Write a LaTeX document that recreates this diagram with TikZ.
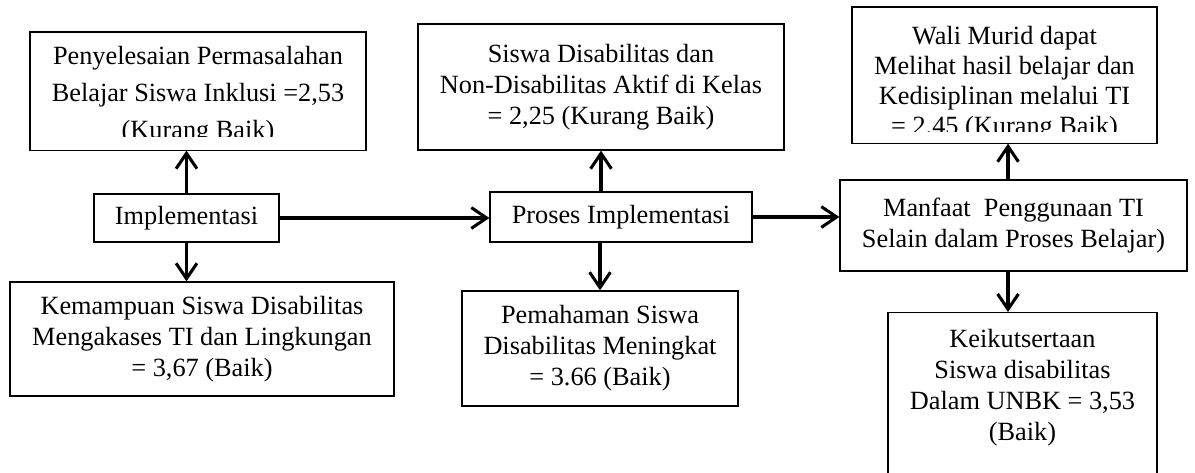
\documentclass[tikz,border=0pt]{standalone}
\usepackage{fontspec}
\setmainfont{Liberation Serif}
\usetikzlibrary{arrows.meta,positioning}

\begin{document}
\begin{tikzpicture}[x=0.4563pt,y=0.4563pt,>={Straight Barb[length=7pt,width=9.5pt]},
	box/.style={draw=black,line width=0.6pt,rectangle,align=center,inner sep=2pt,font=\fontsize{12}{14.2}\selectfont},
	link/.style={->,line width=1.4pt},
	cut/.style={fill=white,draw=none}]
	\useasboundingbox (0,0) rectangle (1195,473);

	% left column
	\node[box,minimum width=153.3pt,minimum height=53.8pt,font=\fontsize{12}{16.9}\selectfont]	(masalah)	at (198,382)	{\rule{0pt}{12.6pt}Penyelesaian Permasalahan\\Belajar Siswa Inklusi =2,53\\(Kurang Baik)};
	\node[box,minimum width=84.4pt,minimum height=21.9pt]	(impl)		at (186.5,255)	{Implementasi};
	\node[box,minimum width=175.2pt,minimum height=52pt]	(akses)		at (202,134)	{Kemampuan Siswa Disabilitas\\Mengakases TI dan Lingkungan\\= 3,67 (Baik)};

	% middle column
	\node[box,minimum width=167pt,minimum height=57.5pt]	(aktif)		at (601,386)	{Siswa Disabilitas dan\\Non-Disabilitas Aktif di Kelas\\= 2,25 (Kurang Baik)};
	\node[box,minimum width=119.5pt,minimum height=22.8pt]	(proses)	at (621,256)	{Proses Implementasi};
	\node[box,minimum width=125.9pt,minimum height=52.5pt]	(paham)		at (600,124.5)	{Pemahaman Siswa\\Disabilitas Meningkat\\= 3.66 (Baik)};

	% right column
	\node[box,minimum width=139.2pt,minimum height=62.1pt,inner ysep=0pt,font=\fontsize{12}{13.7}\selectfont]	(wali)	at (1004.5,398)	{\rule{0pt}{16pt}Wali Murid dapat\\Melihat hasil belajar dan\\Kedisiplinan melalui TI\\= 2,45 (Kurang Baik)};
	\node[box,minimum width=158.3pt,minimum height=41.5pt]	(manfaat)	at (1013.5,247.5)	{Manfaat\ \ Penggunaan TI\\Selain dalam Proses Belajar)};
	\node[box,minimum width=122.7pt,anchor=north,inner ysep=7.5pt,text depth=60pt]	(unbk)	at (1022.5,161)	{Keikutsertaan\\Siswa disabilitas\\Dalam UNBK = 3,53\\(Baik)};

	% last lines cut off by the box
	\path[cut] ([shift={(1.5,1)}]masalah.south west) rectangle ([shift={(-1.5,14)}]masalah.south east);
	\path[cut] ([shift={(1.5,1)}]wali.south west) rectangle ([shift={(-1.5,12)}]wali.south east);

	\path[link]
		(impl)							edge	(impl |- masalah.south)
		(impl)							edge	(impl |- akses.north)
		(impl.east)						edge	(impl.east -| proses.west)
		(proses.north -| aktif.south)	edge	(aktif.south)
		(proses.south -| paham.north)	edge	(paham.north)
		(proses.east)					edge	(proses.east -| manfaat.west)
		([xshift=-2.5pt]manfaat.north)	edge	([xshift=-2.5pt]manfaat.north |- wali.south)
		([xshift=-2.5pt]manfaat.south)	edge	([xshift=-2.5pt]manfaat.south |- unbk.north)
	;
\end{tikzpicture}
\end{document}
